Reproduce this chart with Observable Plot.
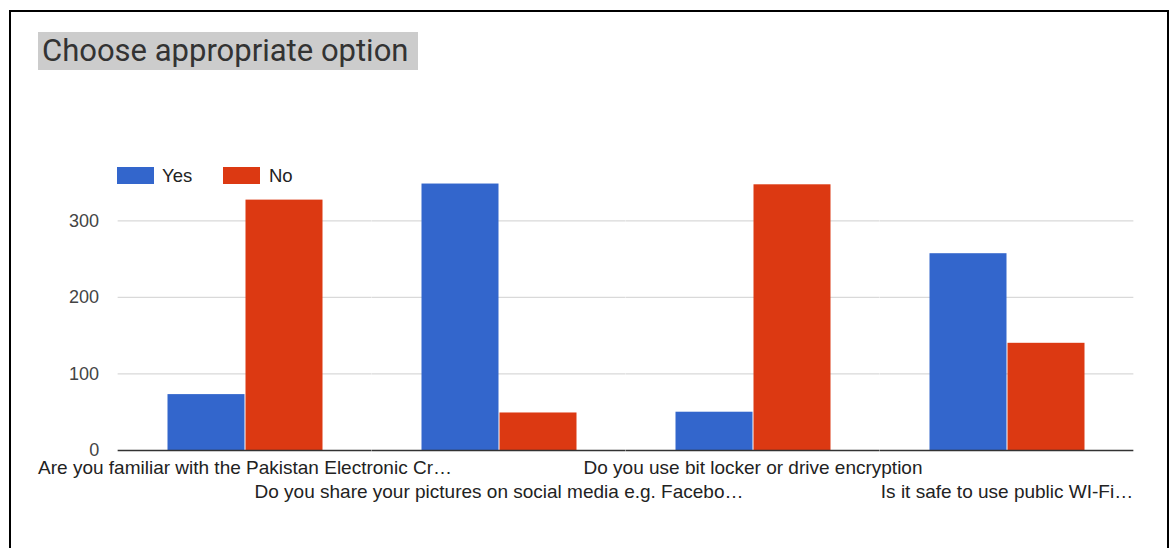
<!DOCTYPE html>
<html><head><meta charset="utf-8">
<script src="https://cdn.jsdelivr.net/npm/d3@7"></script>
<script src="https://cdn.jsdelivr.net/npm/@observablehq/plot@0.6"></script>
<style>
html,body{margin:0;padding:0;background:#fff;width:1170px;height:548px;overflow:hidden;}
#frame{position:absolute;left:9px;top:10px;width:1160px;height:620px;border:2px solid #000;box-sizing:border-box;}
#title{position:absolute;left:38px;top:32px;width:380px;height:38px;background:#cccccc;font-family:Roboto,"Liberation Sans",sans-serif;font-size:31px;line-height:37px;color:#333;padding-left:4px;box-sizing:border-box;white-space:nowrap;overflow:hidden;}
#legend{position:absolute;left:0;top:0;font-family:"Liberation Sans",Arial,sans-serif;font-size:18.5px;color:#222;}
#legend .sw{position:absolute;height:17px;width:37px;top:167px;}
#legend .lb{position:absolute;top:165px;line-height:22px;}
#chart{position:absolute;left:0;top:0;}
</style></head>
<body>
<div id="frame"></div>
<div id="chart"></div>
<div id="title">Choose appropriate option</div>
<div id="legend"></div>
<script>
const categories = [
  "Are you familiar with the Pakistan Electronic Cr…",
  "Do you share your pictures on social media e.g. Facebo…",
  "Do you use bit locker or drive encryption",
  "Is it safe to use public WI-Fi…"
];
const series = ["Yes", "No"];
const yesValues = [73, 348, 50, 257];
const noValues = [327, 49, 347, 140];
const colors = ["#3366cc", "#dc3912"];
const yTicks = [0, 100, 200, 300];

const data = [];
categories.forEach((c, i) => {
  data.push({question: c, answer: "Yes", count: yesValues[i]});
  data.push({question: c, answer: "No", count: noValues[i]});
});

const row1 = categories.filter((d, i) => i % 2 === 0);
const row2 = categories.filter((d, i) => i % 2 === 1);

const W = 1170, H = 548, mL = 117, mR = 35, mT = 182, mB = 98;
const padInner = 0.38, padOuter = 0.19;
// width of the gap beside each facet, so rules join across facets
const step = (W - mL - mR) / (categories.length - padInner + 2 * padOuter);
const ext = padOuter * step;

const plot = Plot.plot({
  width: W,
  height: H,
  marginLeft: mL,
  marginRight: mR,
  marginTop: mT,
  marginBottom: mB,
  style: {fontFamily: "'Liberation Sans', Arial, sans-serif", background: "transparent", overflow: "visible"},
  fx: {domain: categories, paddingInner: padInner, paddingOuter: padOuter, axis: null},
  x: {domain: series, padding: 0, axis: null},
  y: {domain: [0, 350], axis: null},
  color: {domain: series, range: colors},
  marks: [
    Plot.ruleY(yTicks.filter(d => d > 0), {stroke: "#d9d9d9", strokeWidth: 1.2, insetLeft: -ext, insetRight: -ext}),
    Plot.barY(data, {fx: "question", x: "answer", y: "count", fill: "answer", insetLeft: 0.5, insetRight: 0.5}),
    Plot.ruleY([0], {stroke: "#333", strokeWidth: 1.5, insetLeft: -ext, insetRight: -ext}),
    Plot.axisY(yTicks, {tickSize: 0, tickPadding: 19 + ext, fontSize: 18, fill: "#444", label: null}),
    Plot.text(row1, {fx: d => d, text: d => d, frameAnchor: "bottom", lineAnchor: "top", dy: 9.8, fontSize: 19, fill: "#222"}),
    Plot.text(row2, {fx: d => d, text: d => d, frameAnchor: "bottom", lineAnchor: "top", dy: 33.8, fontSize: 19, fill: "#222"})
  ]
});
document.getElementById("chart").appendChild(plot);

const legendPos = [{sw: 117, lb: 162}, {sw: 223, lb: 269}];
const lg = d3.select("#legend");
series.forEach((s, i) => {
  lg.append("div").attr("class", "sw").style("left", legendPos[i].sw + "px").style("background", colors[i]);
  lg.append("div").attr("class", "lb").style("left", legendPos[i].lb + "px").text(s);
});
</script>
</body></html>
